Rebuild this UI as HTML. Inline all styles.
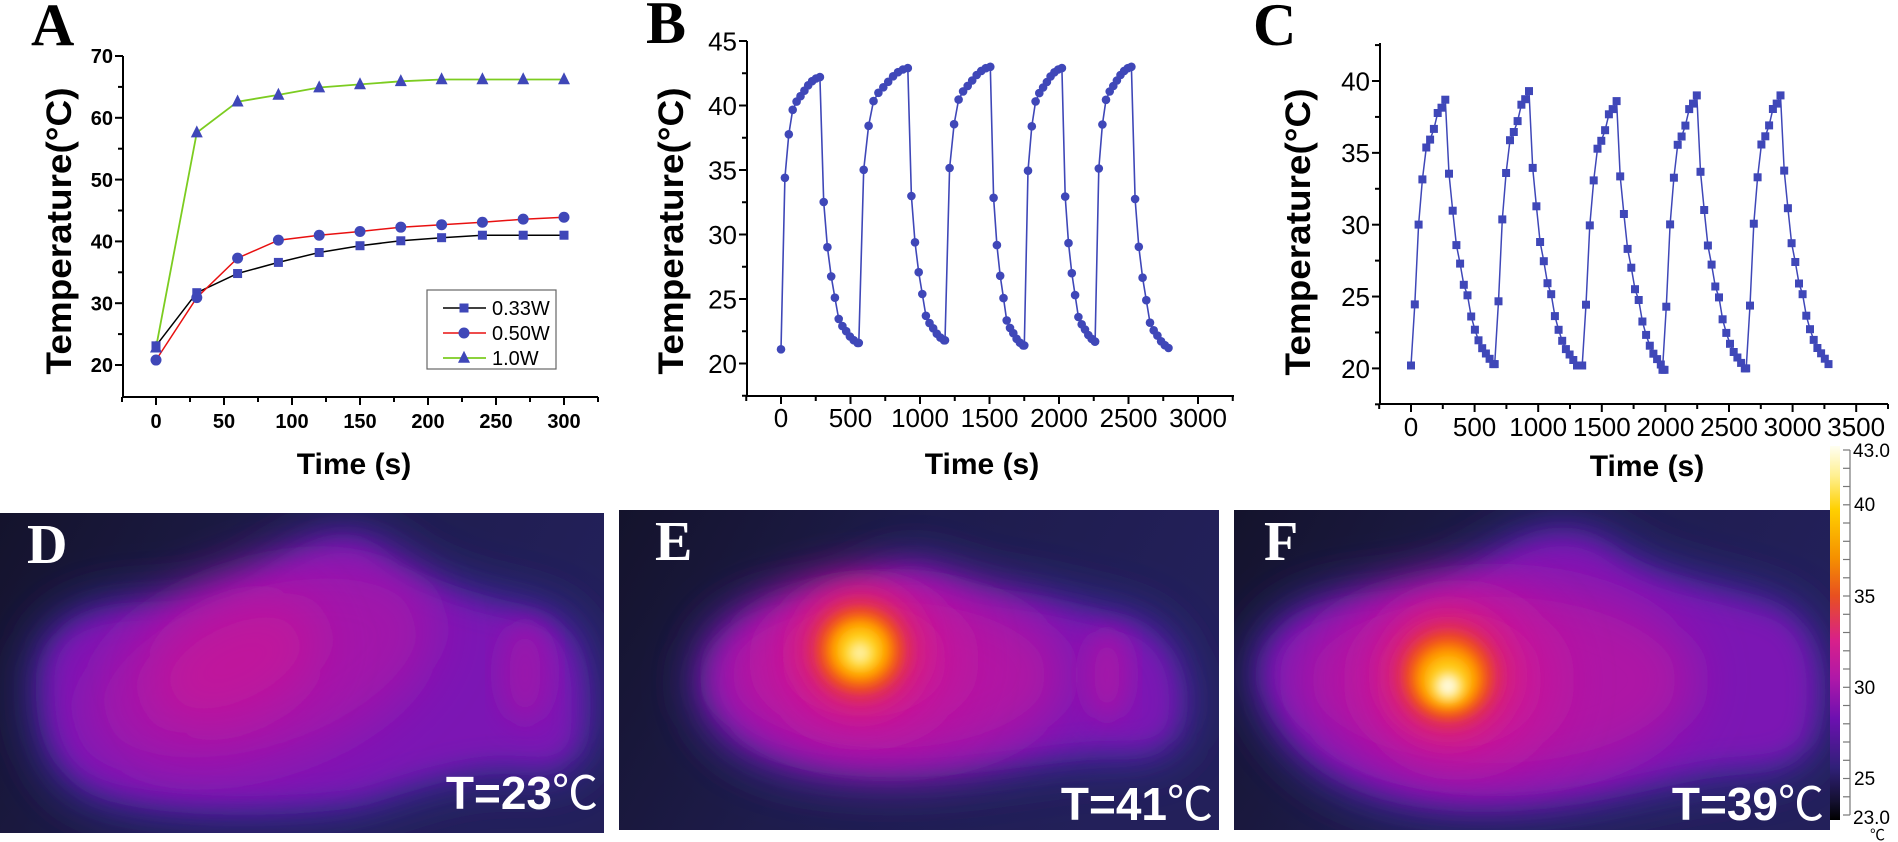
<!DOCTYPE html>
<html><head><meta charset="utf-8">
<style>
html,body{margin:0;padding:0;background:#fff;}
svg{display:block;}
</style></head>
<body>
<svg id="s" width="1898" height="842" viewBox="0 0 1898 842" xmlns="http://www.w3.org/2000/svg" font-family="Liberation Sans, Arial, sans-serif">
<defs>
<filter id="b8" x="-30%" y="-30%" width="160%" height="160%"><feGaussianBlur stdDeviation="8"/></filter>
<filter id="b14" x="-30%" y="-30%" width="160%" height="160%"><feGaussianBlur stdDeviation="14"/></filter>
<filter id="b25" x="-40%" y="-40%" width="180%" height="180%"><feGaussianBlur stdDeviation="25"/></filter>
<filter id="b6" x="-50%" y="-50%" width="200%" height="200%"><feGaussianBlur stdDeviation="6"/></filter>
<linearGradient id="bg" x1="0" y1="0" x2="1" y2="0.3">
<stop offset="0" stop-color="#14132c"/><stop offset="0.5" stop-color="#1e1c4c"/><stop offset="1" stop-color="#23205a"/>
</linearGradient>
<linearGradient id="cb" x1="0" y1="0" x2="0" y2="1">
<stop offset="0" stop-color="#fffff2"/><stop offset="0.08" stop-color="#fff090"/><stop offset="0.17" stop-color="#ffd000"/>
<stop offset="0.3" stop-color="#f59000"/><stop offset="0.4" stop-color="#e85020"/><stop offset="0.52" stop-color="#d8208a"/>
<stop offset="0.62" stop-color="#b018a8"/><stop offset="0.73" stop-color="#6c10b0"/><stop offset="0.86" stop-color="#302078"/>
<stop offset="0.95" stop-color="#141030"/><stop offset="1" stop-color="#000"/>
</linearGradient>
<clipPath id="cD"><rect x="0" y="0" width="604" height="320"/></clipPath>
<clipPath id="cE"><rect x="0" y="0" width="600" height="320"/></clipPath>
<clipPath id="cF"><rect x="0" y="0" width="596" height="320"/></clipPath>
</defs>

<!-- D -->
<g transform="translate(0,513)" clip-path="url(#cD)">
<rect width="604" height="320" fill="url(#bg)"/>
<path d="M30,170 C30,100 90,85 150,85 C220,85 250,60 290,35 C330,10 370,10 390,30 C420,60 480,80 540,90 C590,100 600,160 595,220 C590,270 540,270 520,265 C470,260 420,280 360,300 C280,312 160,312 90,290 C40,270 30,220 30,170 Z" fill="#3a2a9e" filter="url(#b25)"/>
<path d="M45,170 C45,110 95,98 150,98 C220,98 250,72 290,48 C330,24 360,24 380,44 C410,72 480,92 530,102 C578,112 585,160 580,220 C575,258 540,256 520,252 C470,248 420,266 360,285 C280,296 160,296 100,276 C55,258 45,220 45,170 Z" fill="#7c12b4" filter="url(#b14)"/>
<ellipse cx="260" cy="155" rx="180" ry="95" fill="#a218aa" filter="url(#b25)" transform="rotate(-18 260 155)"/>
<ellipse cx="235" cy="150" rx="90" ry="55" fill="#c0189c" filter="url(#b25)" transform="rotate(-25 235 150)"/>
<ellipse cx="525" cy="160" rx="25" ry="50" fill="#9a16ac" filter="url(#b14)"/>
<text x="27" y="50" font-family="Liberation Serif, serif" font-weight="bold" font-size="56" fill="#fff">D</text>
<text x="598" y="296" text-anchor="end" font-weight="bold" font-size="46" fill="#fff">T=23<tspan font-weight="normal" font-family="Liberation Sans, Noto Sans CJK SC, sans-serif">℃</tspan></text>
</g>

<!-- E -->
<g transform="translate(619,510)" clip-path="url(#cE)">
<rect width="600" height="320" fill="url(#bg)"/>
<path d="M75,180 C75,110 130,90 195,85 C240,80 260,50 290,50 C325,50 345,70 385,75 C435,80 460,92 505,100 C560,110 580,170 570,215 C560,258 520,252 480,252 C420,256 380,268 300,272 C190,275 90,262 75,180 Z" fill="#3a2a9e" filter="url(#b25)"/>
<path d="M90,180 C90,120 140,102 200,97 C240,92 262,64 290,64 C320,64 340,84 380,88 C430,93 452,102 500,112 C548,120 566,170 558,210 C550,245 520,240 480,240 C420,244 380,254 300,258 C200,260 108,248 90,180 Z" fill="#7c12b4" filter="url(#b14)"/>
<ellipse cx="270" cy="165" rx="175" ry="90" fill="#b018a4" filter="url(#b25)"/>
<ellipse cx="245" cy="150" rx="100" ry="75" fill="#c8189a" filter="url(#b25)"/>
<ellipse cx="488" cy="165" rx="22" ry="45" fill="#a616a8" filter="url(#b14)"/>
<circle cx="241" cy="140" r="62" fill="#dc2070" filter="url(#b14)"/>
<circle cx="241" cy="140" r="44" fill="#f05018" filter="url(#b8)"/>
<circle cx="241" cy="140" r="33" fill="#ff9400" filter="url(#b6)"/>
<circle cx="241" cy="140" r="23" fill="#ffcc10" filter="url(#b6)"/>
<circle cx="241" cy="143" r="12" fill="#fff0a0" filter="url(#b6)"/>
<text x="36" y="50" font-family="Liberation Serif, serif" font-weight="bold" font-size="56" fill="#fff">E</text>
<text x="594" y="310" text-anchor="end" font-weight="bold" font-size="46" fill="#fff">T=41<tspan font-weight="normal" font-family="Liberation Sans, Noto Sans CJK SC, sans-serif">℃</tspan></text>
</g>

<!-- F -->
<g transform="translate(1234,510)" clip-path="url(#cF)">
<rect width="596" height="320" fill="url(#bg)"/>
<path d="M15,170 C15,100 80,82 150,78 C200,74 230,58 270,32 C310,8 355,8 385,34 C425,64 485,70 545,90 C598,110 598,190 585,232 C570,270 520,268 480,272 C420,282 360,302 280,306 C170,312 50,290 15,170 Z" fill="#3a2a9e" filter="url(#b25)"/>
<path d="M30,170 C30,110 90,95 150,90 C200,85 230,70 270,45 C310,20 350,20 380,45 C420,75 480,80 540,100 C588,118 588,190 575,228 C560,258 520,253 480,258 C420,268 360,288 280,292 C180,298 60,278 30,170 Z" fill="#7c12b4" filter="url(#b14)"/>
<ellipse cx="260" cy="170" rx="200" ry="100" fill="#ae18a6" filter="url(#b25)"/>
<ellipse cx="225" cy="170" rx="100" ry="85" fill="#c8189a" filter="url(#b25)"/>
<circle cx="214" cy="165" r="64" fill="#dc2070" filter="url(#b14)"/>
<circle cx="214" cy="166" r="45" fill="#f05018" filter="url(#b8)"/>
<circle cx="214" cy="168" r="34" fill="#ff9000" filter="url(#b6)"/>
<circle cx="214" cy="170" r="24" fill="#ffc810" filter="url(#b6)"/>
<circle cx="214" cy="176" r="13" fill="#fffbe0" filter="url(#b6)"/>
<text x="30" y="50" font-family="Liberation Serif, serif" font-weight="bold" font-size="56" fill="#fff">F</text>
<text x="590" y="310" text-anchor="end" font-weight="bold" font-size="46" fill="#fff">T=39<tspan font-weight="normal" font-family="Liberation Sans, Noto Sans CJK SC, sans-serif">℃</tspan></text>
</g>

<!-- colorbar -->
<rect x="1830" y="446" width="10" height="374" fill="url(#cb)"/>
<line x1="1850" y1="450" x2="1850" y2="815" stroke="#777" stroke-width="1.2"/>
<g font-size="19" fill="#000">
<text x="1853" y="457">43.0</text>
<text x="1854" y="511">40</text>
<text x="1854" y="603">35</text>
<text x="1854" y="694">30</text>
<text x="1854" y="785">25</text>
<text x="1853" y="824">23.0</text>
<text x="1870" y="840" font-size="15" font-family="Liberation Sans, Noto Sans CJK SC, sans-serif">℃</text>
</g>

<g id="plots"></g>
</svg>
<script>
var P=[];
function L(x1,y1,x2,y2,c,w){P.push('<line x1="'+x1+'" y1="'+y1+'" x2="'+x2+'" y2="'+y2+'" stroke="'+(c||'#000')+'" stroke-width="'+(w||2)+'"/>');}
function T(x,y,t,o){P.push('<text x="'+x+'" y="'+y+'" '+(o||'')+'>'+t+'</text>');}
function PL(pts,c,w){P.push('<polyline fill="none" stroke="'+c+'" stroke-width="'+(w||1.6)+'" points="'+pts.map(function(p){return p[0].toFixed(1)+','+p[1].toFixed(1)}).join(' ')+'"/>');}
function sq(x,y,s,c){P.push('<rect x="'+(x-s/2)+'" y="'+(y-s/2)+'" width="'+s+'" height="'+s+'" fill="'+c+'"/>');}
function ci(x,y,r,c){P.push('<circle cx="'+x+'" cy="'+y+'" r="'+r+'" fill="'+c+'"/>');}
function tri(x,y,s,c){P.push('<polygon points="'+x+','+(y-s*0.6)+' '+(x-s/2)+','+(y+s*0.4)+' '+(x+s/2)+','+(y+s*0.4)+'" fill="'+c+'"/>');}
var MC='#3f47b8';
for(var v=23;v<=43;v++){var yy=450+(43-v)*18.25;L(1843,yy.toFixed(1),1850,yy.toFixed(1),'#777',1.2);}

function axes(o){
  L(o.ax,o.yTop,o.ax,o.yBot);L(o.ax-1,o.yBot,o.xR,o.yBot);
  o.ymaj.forEach(function(v){var y=o.ym(v);L(o.ax-8,y,o.ax,y);T(o.ax-10,y+o.yfs*0.36,v,'text-anchor="end" font-size="'+o.yfs+'" '+(o.bold?'font-weight="bold"':''));});
  o.ymin.forEach(function(v){var y=o.ym(v);L(o.ax-5,y,o.ax,y);});
  o.xmaj.forEach(function(v){var x=o.xm(v);L(x,o.yBot,x,o.yBot+8);T(x,o.xlY,v,'text-anchor="middle" font-size="'+o.xfs+'" '+(o.bold?'font-weight="bold"':''));});
  o.xmin.forEach(function(v){var x=o.xm(v);L(x,o.yBot,x,o.yBot+5);});
}
function rng(a,b,s){var r=[];for(var v=a;v<=b+1e-9;v+=s)r.push(Math.round(v*100)/100);return r;}

// ---------- A ----------
var axm=function(t){return 156+t*(408/300);}, aym=function(v){return 56+(70-v)*6.18;};
axes({ax:123,yTop:56,yBot:397,xR:598,xm:axm,ym:aym,ymaj:rng(20,70,10),ymin:rng(25,65,10),xmaj:rng(0,300,50),xmin:[-25,25,75,125,175,225,275,325],yfs:20,xfs:20,xlY:428,bold:true});
var tA=rng(0,300,30);
var s1=[23.1,31.7,34.8,36.6,38.2,39.3,40.1,40.6,41.0,41.0,41.0];
var s2=[20.8,30.9,37.3,40.2,41.0,41.6,42.3,42.7,43.1,43.6,43.9];
var s3=[22.8,57.6,62.6,63.7,64.9,65.4,65.9,66.2,66.2,66.2,66.2];
PL(tA.map(function(t,i){return[axm(t),aym(s1[i])]}),'#000',1.5);
PL(tA.map(function(t,i){return[axm(t),aym(s2[i])]}),'#e81010',1.5);
PL(tA.map(function(t,i){return[axm(t),aym(s3[i])]}),'#7ccc20',1.8);
tA.forEach(function(t,i){sq(axm(t),aym(s1[i]),9,MC);ci(axm(t),aym(s2[i]),5.5,MC);tri(axm(t),aym(s3[i]),12,MC);});
P.push('<rect x="427" y="290" width="129" height="79" fill="#fff" stroke="#666" stroke-width="1.2"/>');
L(443,308,486,308,'#000',1.5);sq(464,308,9,MC);T(492,315,'0.33W','font-size="20"');
L(443,333,486,333,'#e81010',1.5);ci(464,333,5.5,MC);T(492,340,'0.50W','font-size="20"');
L(443,358,486,358,'#7ccc20',1.8);tri(464,358,12,MC);T(492,365,'1.0W','font-size="20"');
T(31,45,'A','font-family="Liberation Serif, serif" font-weight="bold" font-size="60"');
T(71,231,'Temperature(°C)','font-weight="bold" font-size="35" text-anchor="middle" transform="rotate(-90 71 231)" textLength="287" lengthAdjust="spacingAndGlyphs"');
T(354,474,'Time (s)','font-weight="bold" font-size="30" text-anchor="middle"');

// ---------- B ----------
var bxm=function(t){return 781+t*(69.5/500);}, bym=function(v){return 41+(45-v)*12.9;};
axes({ax:747,yTop:41,yBot:396,xR:1234,xm:bxm,ym:bym,ymaj:rng(20,45,5),ymin:rng(17.5,42.5,5),xmaj:rng(0,3000,500),xmin:rng(-250,3250,500),yfs:26,xfs:26,xlY:427,bold:false});
var H=[0,.63,.79,.88,.91,.93,.95,.97,.985,.995,1], C=[.53,.36,.25,.17,.09,.063,.044,.024,.01,0];
// [start, min, peak, end, heatDur, coolDur]
var cyB=[[0,21.1,42.2,21.6,280,270],[560,21.6,42.9,21.8,352,261],[1180,21.8,43.0,21.4,326,236],[1750,21.4,42.9,21.7,271,237],[2260,21.7,43.0,21.2,261,267]];
var ptsB=[];
cyB.forEach(function(c){var s=c[0],hd=c[4]/10,cd=c[5]/10;H.forEach(function(h,i){ptsB.push([s+i*hd,c[1]+(c[2]-c[1])*h]);});var pk=s+c[4];C.forEach(function(f,i){ptsB.push([pk+(i+1)*cd,c[3]+(c[2]-c[3])*f]);});});
var pb=ptsB.map(function(p){return[bxm(p[0]),bym(p[1])]});
PL(pb,'#3f47b8',1.6);pb.forEach(function(p){ci(p[0].toFixed(1),p[1].toFixed(1),4.3,MC);});
T(646,43,'B','font-family="Liberation Serif, serif" font-weight="bold" font-size="60"');
T(683,231,'Temperature(°C)','font-weight="bold" font-size="35" text-anchor="middle" transform="rotate(-90 683 231)" textLength="287" lengthAdjust="spacingAndGlyphs"');
T(982,474,'Time (s)','font-weight="bold" font-size="30" text-anchor="middle"');

// ---------- C ----------
var cxm=function(t){return 1411+t*(63.6/500);}, cym=function(v){return 81+(40-v)*14.37;};
axes({ax:1380,yTop:43,yBot:404,xR:1888,xm:cxm,ym:cym,ymaj:rng(20,40,5),ymin:rng(17.5,42.5,5),xmaj:rng(0,3500,500),xmin:rng(-250,3750,500).filter(function(v){return cxm(v)<1889}),yfs:26,xfs:26,xlY:436,bold:false});
var HC=[0,.23,.53,.70,.82,.85,.89,.95,.97,1], CC=[.72,.58,.45,.38,.30,.26,.18,.13,.09,.06,.04,.02,0];
var cyC=[[0,20.2,38.7,20.3],[658,20.3,39.3,20.2],[1346,20.2,38.6,19.9],[1977,19.9,39.0,20.0],[2635,20.0,39.0,20.3]];
var ptsC=[];
cyC.forEach(function(c){var s=c[0];HC.forEach(function(h,i){ptsC.push([s+i*30,c[1]+(c[2]-c[1])*h]);});var pk=s+270;CC.forEach(function(f,i){ptsC.push([pk+(i+1)*29,c[3]+(c[2]-c[3])*f]);});});
var pc=ptsC.map(function(p){return[cxm(p[0]),cym(p[1])]});
PL(pc,'#3f47b8',1.5);pc.forEach(function(p){sq(p[0].toFixed(1),p[1].toFixed(1),8,MC);});
T(1253,45,'C','font-family="Liberation Serif, serif" font-weight="bold" font-size="60"');
T(1310,232,'Temperature(°C)','font-weight="bold" font-size="35" text-anchor="middle" transform="rotate(-90 1310 232)" textLength="287" lengthAdjust="spacingAndGlyphs"');
T(1647,476,'Time (s)','font-weight="bold" font-size="30" text-anchor="middle"');

document.getElementById('plots').innerHTML=P.join('');
</script>
</body></html>
